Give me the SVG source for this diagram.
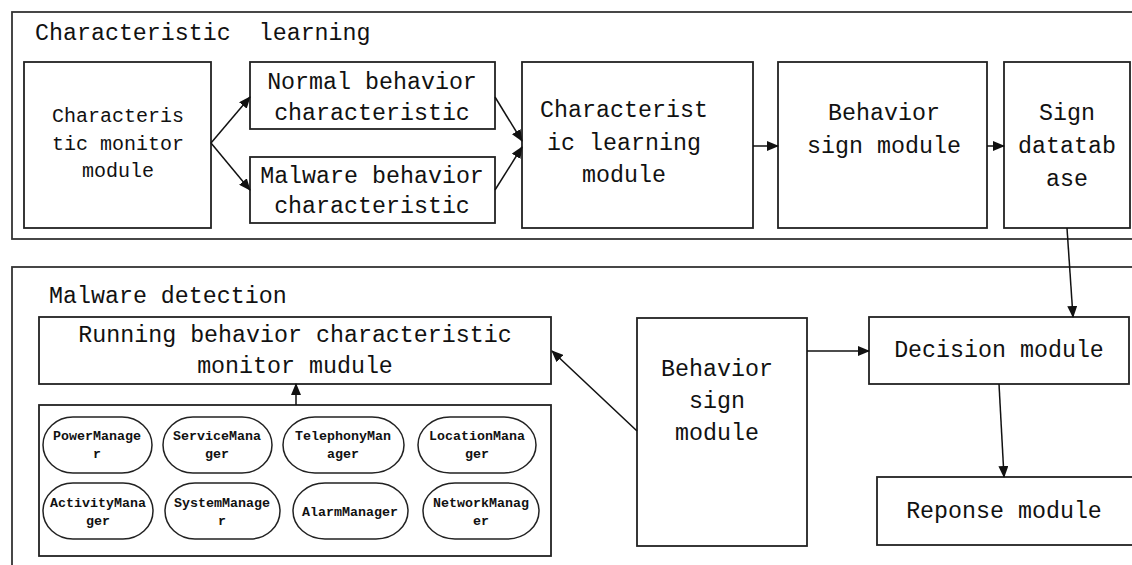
<svg xmlns="http://www.w3.org/2000/svg" width="1132" height="565" viewBox="0 0 1132 565">
<defs>
<marker id="ah" markerWidth="12" markerHeight="10" refX="11" refY="5" orient="auto" markerUnits="userSpaceOnUse">
<path d="M0,0 L12,5 L0,10 Z" fill="#111"/>
</marker>
<style>
.frame{fill:none;stroke:#333;stroke-width:1.8}
.box{fill:#fff;stroke:#222;stroke-width:1.8}
.pill{fill:#fff;stroke:#222;stroke-width:1.5}
.t{font-family:"Liberation Mono","DejaVu Sans Mono",monospace;font-size:23.3px;fill:#111;text-anchor:middle}
.s{font-size:20px}
.title{text-anchor:start}
.p{font-family:"Liberation Mono","DejaVu Sans Mono",monospace;font-size:13.3px;font-weight:bold;fill:#111;text-anchor:middle}
.c{fill:none;stroke:#111;stroke-width:1.5;marker-end:url(#ah)}
</style>
</defs>
<rect width="1132" height="565" fill="#fff"/>

<g id="frame-learning">
<rect class="frame" x="12" y="12" width="1140" height="227"/>
<text class="t title" x="35" y="40" xml:space="preserve">Characteristic  learning</text>
</g>
<g id="frame-detection">
<rect class="frame" x="12" y="267" width="1140" height="320"/>
<text class="t title" x="49" y="303">Malware detection</text>
</g>

<g id="monitor">
<rect class="box" x="24" y="62" width="187" height="166"/>
<text class="t s" x="118" y="122">Characteris</text>
<text class="t s" x="118" y="150">tic monitor</text>
<text class="t s" x="118" y="177">module</text>
</g>
<g id="normal">
<rect class="box" x="250" y="62" width="245" height="67"/>
<text class="t" x="372" y="89">Normal behavior</text>
<text class="t" x="372" y="120">characteristic</text>
</g>
<g id="malware">
<rect class="box" x="250" y="157" width="245" height="66"/>
<text class="t" x="372" y="183">Malware behavior</text>
<text class="t" x="372" y="213">characteristic</text>
</g>
<g id="learning">
<rect class="box" x="522" y="62" width="231" height="166"/>
<text class="t" x="624" y="117">Characterist</text>
<text class="t" x="624" y="150">ic learning</text>
<text class="t" x="624" y="182">module</text>
</g>
<g id="behavior-sign-top">
<rect class="box" x="778" y="62" width="209" height="166"/>
<text class="t" x="884" y="120">Behavior</text>
<text class="t" x="884" y="153">sign module</text>
</g>
<g id="sign-db">
<rect class="box" x="1004" y="62" width="126" height="166"/>
<text class="t" x="1067" y="120">Sign</text>
<text class="t" x="1067" y="153">datatab</text>
<text class="t" x="1067" y="186">ase</text>
</g>

<g id="running">
<rect class="box" x="39" y="317" width="512" height="67"/>
<text class="t" x="295" y="342">Running behavior characteristic</text>
<text class="t" x="295" y="373">monitor mudule</text>
</g>
<g id="managers">
<rect class="box" x="39" y="405" width="512" height="151"/>
</g>
<g id="power"><rect class="pill" x="43" y="417" width="109" height="56" rx="30" ry="28"/><text class="p" x="97" y="440">PowerManage</text><text class="p" x="97" y="458">r</text></g>
<g id="service"><rect class="pill" x="163" y="417" width="109" height="56" rx="30" ry="28"/><text class="p" x="217" y="440">ServiceMana</text><text class="p" x="217" y="458">ger</text></g>
<g id="telephony"><rect class="pill" x="283" y="417" width="121" height="56" rx="32" ry="28"/><text class="p" x="343" y="440">TelephonyMan</text><text class="p" x="343" y="458">ager</text></g>
<g id="location"><rect class="pill" x="418" y="417" width="118" height="56" rx="32" ry="28"/><text class="p" x="477" y="440">LocationMana</text><text class="p" x="477" y="458">ger</text></g>
<g id="activity"><rect class="pill" x="43" y="483" width="110" height="56" rx="30" ry="28"/><text class="p" x="98" y="507">ActivityMana</text><text class="p" x="98" y="525">ger</text></g>
<g id="system"><rect class="pill" x="165" y="483" width="115" height="56" rx="30" ry="28"/><text class="p" x="222" y="507">SystemManage</text><text class="p" x="222" y="525">r</text></g>
<g id="alarm"><rect class="pill" x="293" y="483" width="115" height="56" rx="32" ry="28"/><text class="p" x="350" y="516">AlarmManager</text></g>
<g id="network"><rect class="pill" x="423" y="483" width="116" height="56" rx="32" ry="28"/><text class="p" x="481" y="507">NetworkManag</text><text class="p" x="481" y="525">er</text></g>

<g id="behavior-sign-bottom">
<rect class="box" x="637" y="318" width="170" height="228"/>
<text class="t" x="717" y="376">Behavior</text>
<text class="t" x="717" y="408">sign</text>
<text class="t" x="717" y="440">module</text>
</g>
<g id="decision">
<rect class="box" x="869" y="317" width="260" height="67"/>
<text class="t" x="999" y="357">Decision module</text>
</g>
<g id="response">
<rect class="box" x="877" y="477" width="270" height="68"/>
<text class="t" x="1004" y="518">Reponse module</text>
</g>

<g id="connectors">
<line class="c" x1="211" y1="143" x2="250" y2="97"/>
<line class="c" x1="211" y1="143" x2="250" y2="190"/>
<line class="c" x1="495" y1="97" x2="522" y2="141"/>
<line class="c" x1="495" y1="190" x2="522" y2="147"/>
<line class="c" x1="753" y1="146" x2="778" y2="146"/>
<line class="c" x1="987" y1="146" x2="1004" y2="146"/>
<line class="c" x1="1067" y1="228" x2="1073" y2="317"/>
<line class="c" x1="807" y1="351" x2="869" y2="351"/>
<line class="c" x1="637" y1="431" x2="552" y2="351"/>
<line class="c" x1="296" y1="405" x2="296" y2="384"/>
<line class="c" x1="999" y1="384" x2="1004" y2="477"/>
</g>
</svg>
